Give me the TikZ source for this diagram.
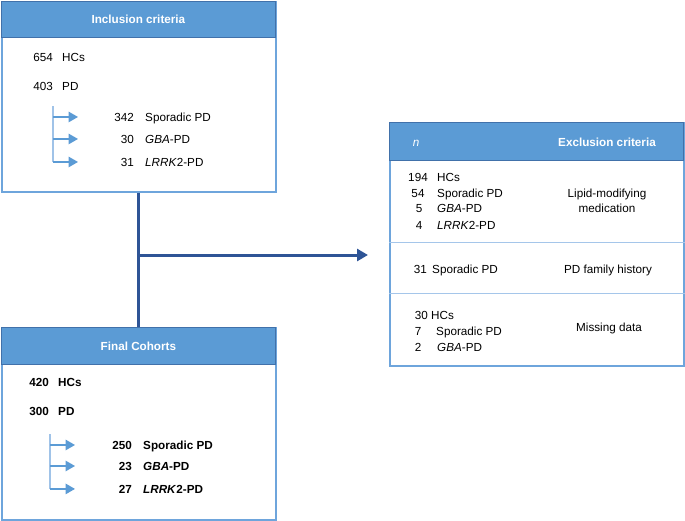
\documentclass[tikz,border=0pt]{standalone}
\usepackage{fontspec}
\setmainfont{Liberation Sans}
\definecolor{headblue}{RGB}{91,155,213}
\definecolor{headedge}{RGB}{65,113,170}
\definecolor{boxedge}{RGB}{110,165,220}
\definecolor{rowline}{RGB}{165,198,234}
\definecolor{flowblue}{RGB}{46,84,150}
\definecolor{treeline}{RGB}{160,195,232}
\definecolor{treearr}{RGB}{91,155,213}
\usetikzlibrary{arrows.meta,positioning,calc}
\newcommand{\txtsize}{\fontsize{11.7}{14}\selectfont}
\tikzset{
  panel/.style={draw=boxedge,line width=1.5pt,fill=white,anchor=north west,inner sep=0pt},
  headbar/.style={draw=headedge,line width=0.8pt,fill=headblue,anchor=north west,inner sep=0pt,text=white,font=\txtsize\bfseries},
  headtxt/.style={text=white,anchor=base,inner sep=0pt},
  numtxt/.style={anchor=base east,inner sep=0pt},
  labtxt/.style={anchor=base west,inner sep=0pt},
  midtxt/.style={anchor=base,inner sep=0pt},
  flow/.style={flowblue,line width=3pt},
  flowarr/.style={flow,-{Triangle[length=11pt,width=12pt]}},
  trunk/.style={treeline,line width=1.2pt},
  twig/.style={treearr,line width=1.5pt,-{Triangle[length=9.5pt,width=10.5pt]}},
  divider/.style={rowline,line width=1pt},
}

\begin{document}
\begin{tikzpicture}[x=1pt,y=-1pt,font=\txtsize]
  \useasboundingbox (0,0) rectangle (685,520);
  % boxes
  \node[panel,minimum width=274pt,minimum height=190pt] (inclbox) at (1,1) {};
  \node[headbar,minimum width=274pt,minimum height=36pt] (inclhead) at (1,1) {Inclusion criteria};
  \node[panel,minimum width=274pt,minimum height=192pt] (finalbox) at (1,327) {};
  \node[headbar,minimum width=274pt,minimum height=37pt] (finalhead) at (1,327) {Final Cohorts};
  \node[panel,minimum width=294pt,minimum height=243pt] (exclbox) at (389,122) {};
  \node[headbar,minimum width=294pt,minimum height=38pt] (exclhead) at (389,122) {};

  % inclusion counts
  \node[numtxt] (inN1) at (53,61) {654};  \node[labtxt] (inL1) at (62,61) {HCs};
  \node[numtxt] (inN2) at (53,90) {403};  \node[labtxt] (inL2) at (62,90) {PD};
  \node[numtxt] (inN3) at (134,121) {342}; \node[labtxt] (inL3) at (145,121) {Sporadic PD};
  \node[numtxt] (inN4) at (134,143) {30};  \node[labtxt] (inL4) at (145,143) {\textit{GBA}-PD};
  \node[numtxt] (inN5) at (134,166) {31};  \node[labtxt] (inL5) at (145,166) {\textit{LRRK}2-PD};
  \coordinate (inTrunk) at (53,106);
  \draw[trunk] (inTrunk) -- (inTrunk |- inN5.center);
  \foreach \n in {inN3,inN4,inN5}
    \draw[twig] (inTrunk |- \n.center) -- ++(25,0);

  % final cohorts
  \begin{scope}[font=\txtsize\bfseries]
  \node[numtxt] (fiN1) at (49,386) {420};  \node[labtxt] (fiL1) at (58,386) {HCs};
  \node[numtxt] (fiN2) at (49,415) {300};  \node[labtxt] (fiL2) at (58,415) {PD};
  \node[numtxt] (fiN3) at (132,449) {250}; \node[labtxt] (fiL3) at (143,449) {Sporadic PD};
  \node[numtxt] (fiN4) at (132,470) {23};  \node[labtxt] (fiL4) at (143,470) {\textit{GBA}-PD};
  \node[numtxt] (fiN5) at (132,493) {27};  \node[labtxt] (fiL5) at (143,493) {\textit{LRRK}2-PD};
  \end{scope}
  \coordinate (fiTrunk) at (50,434);
  \draw[trunk] (fiTrunk) -- (fiTrunk |- fiN5.center);
  \foreach \n in {fiN3,fiN4,fiN5}
    \draw[twig] (fiTrunk |- \n.center) -- ++(25,0);

  % exclusion table
  \node[headtxt] (exN) at (416,146) {\textit{n}};
  \node[headtxt,font=\txtsize\bfseries] (exHead) at (607,146) {Exclusion criteria};
  \draw[divider] (exclbox.west |- 0,242) -- (exclbox.east |- 0,242);
  \draw[divider] (exclbox.west |- 0,293) -- (exclbox.east |- 0,293);
  % lipid-modifying medication
  \node[midtxt] (exA1) at (418,181) {194}; \node[labtxt] (exB1) at (437,181) {HCs};
  \node[midtxt] (exA2) at (418,197) {54};  \node[labtxt] (exB2) at (437,197) {Sporadic PD};
  \node[midtxt] (exA3) at (419,212) {5};   \node[labtxt] (exB3) at (437,212) {\textit{GBA}-PD};
  \node[midtxt] (exA4) at (419,229) {4};   \node[labtxt] (exB4) at (437,229) {\textit{LRRK}2-PD};
  \node[midtxt] (exC1) at (607,197) {Lipid-modifying};
  \node[midtxt] (exC2) at (607,212) {medication};
  % family history
  \node[numtxt] (exA5) at (427,273) {31};  \node[labtxt] (exB5) at (432,273) {Sporadic PD};
  \node[midtxt] (exC3) at (608,273) {PD family history};
  % missing data
  \node[numtxt] (exA6) at (428,319) {30};  \node[labtxt] (exB6) at (431,319) {HCs};
  \node[midtxt] (exA7) at (418,335) {7};   \node[labtxt] (exB7) at (436,335) {Sporadic PD};
  \node[midtxt] (exA8) at (418,351) {2};   \node[labtxt] (exB8) at (437,351) {\textit{GBA}-PD};
  \node[midtxt] (exC4) at (609,331) {Missing data};

  % main flow
  \draw[flow] (inclbox.south) -- (finalbox.north);
  \coordinate (split) at (138,255);
  \coordinate (tip) at (368,255);
  \draw[flowarr] (split) -- (tip);
\end{tikzpicture}
\end{document}
